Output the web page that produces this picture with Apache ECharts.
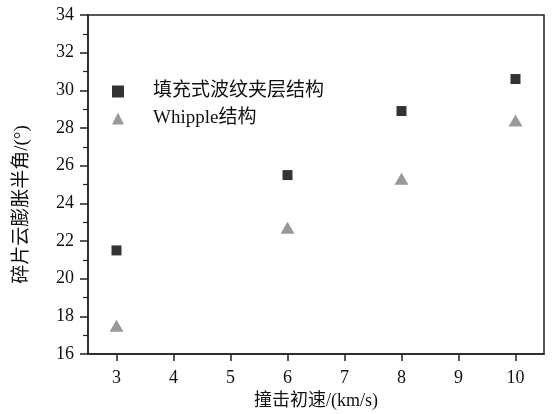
<!DOCTYPE html>
<html><head><meta charset="utf-8">
<script src="https://cdn.jsdelivr.net/npm/echarts@6/dist/echarts.min.js"></script>
<style>html,body{margin:0;padding:0;background:#fff}#c{width:554px;height:414px}</style>
</head><body><div id="c"></div>
<script>
var velocities = [3, 6, 8, 10];
var fillWave = [21.5, 25.5, 28.9, 30.6];
var whipple = [17.5, 22.7, 25.3, 28.4];
var xTicks = [3, 4, 5, 6, 7, 8, 9, 10];
var seriesNames = ['填充式波纹夹层结构', 'Whipple结构'];

var serif = '"Liberation Serif", "Times New Roman", "Noto Sans CJK SC", serif';
function pairs(ys){ return velocities.map(function(v,i){return [v, ys[i]];}); }

var chart = echarts.init(document.getElementById('c'));
chart.setOption({
  animation: false,
  backgroundColor: '#fff',
  grid: {left: 88, right: 10, top: 15, bottom: 60, outerBoundsMode: 'none', containLabel: false,
         show: true, borderColor: '#222', borderWidth: 1.5, backgroundColor: 'transparent'},
  legend: {
    orient: 'vertical', left: 107, top: 77, itemGap: 8,
    itemWidth: 12, itemHeight: 12,
    textStyle: {fontFamily: serif, fontSize: 19, color: '#111', padding: [0,0,0,24]},
    data: [{name: seriesNames[0], icon: 'rect'}, {name: seriesNames[1], icon: 'triangle'}]
  },
  xAxis: {
    type: 'value', min: 2.5, max: 10.5,
    name: '撞击初速/(km/s)', nameLocation: 'middle', nameGap: 37,
    nameTextStyle: {fontFamily: serif, fontSize: 18, color: '#111'},
    axisLine: {lineStyle: {color: '#222', width: 1.5}},
    axisTick: {show: true, inside: false, length: 7, customValues: xTicks, lineStyle: {color: '#222', width: 1.5}},
    axisLabel: {customValues: xTicks, fontFamily: serif, fontSize: 18, color: '#111', margin: 15},
    splitLine: {show: false}
  },
  yAxis: {
    type: 'value', min: 16, max: 34, interval: 2,
    name: '碎片云膨胀半角/(°)', nameLocation: 'middle', nameGap: 56, nameRotate: 90,
    nameTextStyle: {fontFamily: serif, fontSize: 19, color: '#111', padding: [0, 40, 0, 0]},
    axisLine: {show: true, lineStyle: {color: '#222', width: 1.5}},
    axisTick: {show: true, inside: false, length: 8, lineStyle: {color: '#222', width: 1.5}},
    minorTick: {show: true, splitNumber: 2, length: 5, lineStyle: {color: '#222', width: 1.2}},
    axisLabel: {fontFamily: serif, fontSize: 18, color: '#111', margin: 14},
    splitLine: {show: false}
  },
  series: [
    {name: seriesNames[0], type: 'scatter', symbol: 'rect', symbolSize: 10, itemStyle: {color: '#000'}, data: pairs(fillWave)},
    {name: seriesNames[1], type: 'scatter', symbol: 'triangle', symbolSize: [14, 12], itemStyle: {color: '#808080'}, data: pairs(whipple)}
  ]
});
</script></body></html>
